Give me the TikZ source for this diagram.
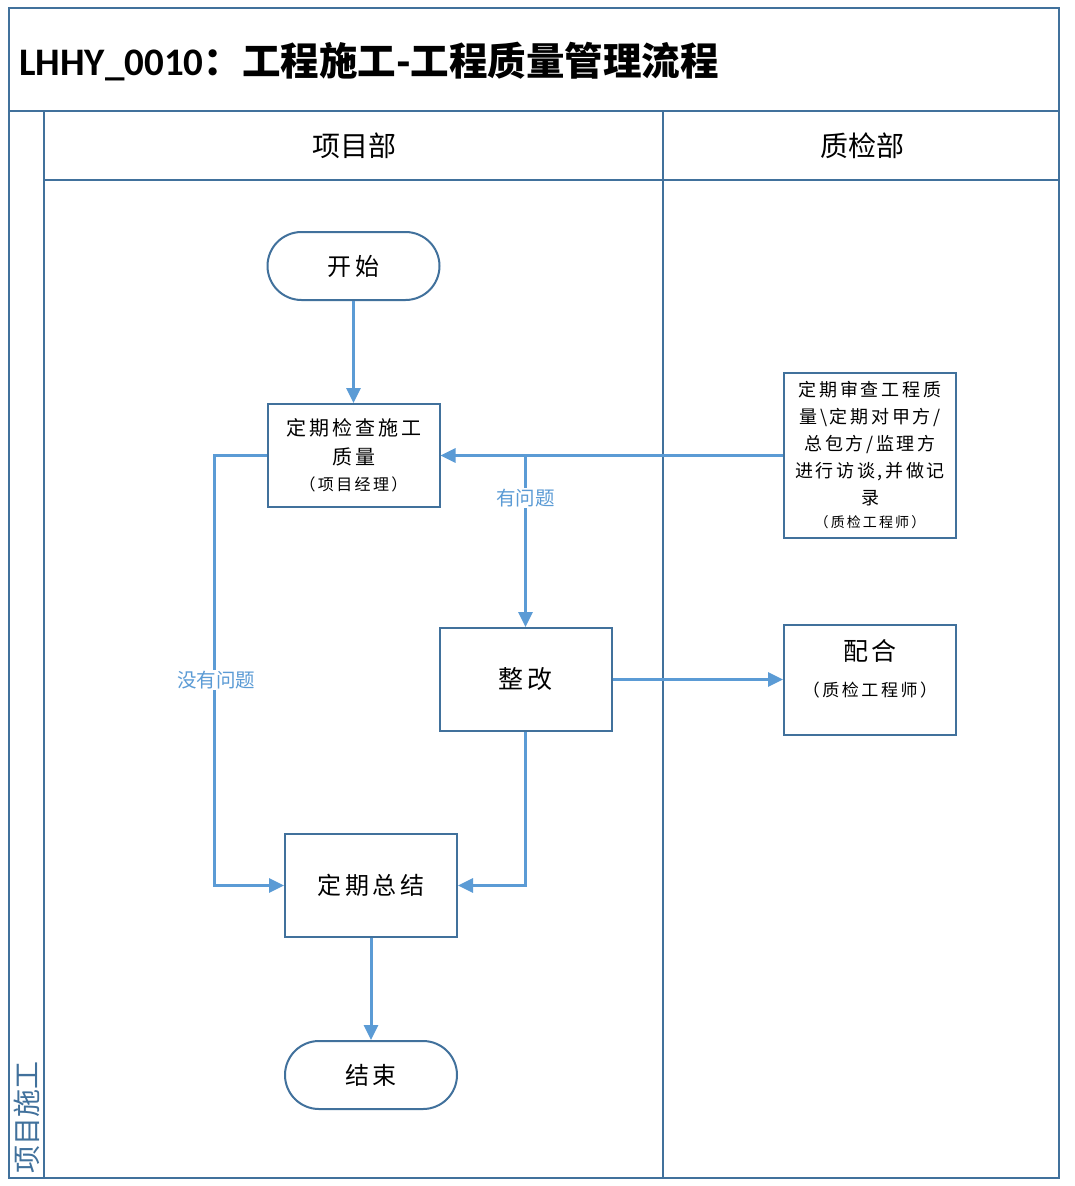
\documentclass[tikz,border=0pt]{standalone}
\usepackage{fontspec}
\setmainfont{Noto Sans CJK SC}
\newfontfamily\cjks{Noto Sans CJK SC}[LetterSpace=15]
\newfontfamily\latinb{Carlito}
\usetikzlibrary{arrows.meta}
\definecolor{frame}{HTML}{41719C}
\definecolor{arr}{HTML}{5B9BD5}
\newcommand{\fsz}[2]{\fontsize{#1}{#2}\selectfont}
\tikzset{
  lane/.style={draw=frame,line width=2pt},
  box/.style={draw=frame,line width=2pt,fill=white,minimum width=172pt,align=center,inner sep=2pt,text=black},
  term/.style={box,rounded corners=34pt,minimum height=68pt},
  flow/.style={draw=arr,line width=3pt,-{Triangle[length=15pt,width=14pt]}},
  lbl/.style={fill=white,text=arr,inner sep=1pt,font=\fsz{19.5}{21}},
  hdr/.style={font=\fsz{28}{30},text=black}
}
\begin{document}
\begin{tikzpicture}[x=1pt,y=-1pt]
\useasboundingbox (0,0) rectangle (1074,1186);
\fill[white] (0,0) rectangle (1074,1186);
% frame and lanes
\draw[lane] (9,8) rectangle (1059,1178);
\draw[lane] (9,111) -- (1059,111);
\draw[lane] (44,111) -- (44,1178);
\draw[lane] (44,180) -- (1059,180);
\draw[lane] (663,111) -- (663,1178);
% title
\node[anchor=west,inner sep=0pt] (title) at (19,62)
  {{\latinb\bfseries\fsz{39}{40}LHHY\_0010}{\bfseries\fsz{38.5}{40}：工程施工-工程质量管理流程}};
% headers
\node[hdr] (h1) at (354,146) {项目部};
\node[hdr] (h2) at (862,146) {质检部};
\node[rotate=90,text=frame,font=\fsz{28}{30}] (pool) at (27,1117) {项目施工};
% nodes
\node[term,font=\cjks\fsz{24}{28}] (start) at (353.5,266) {开始};
\node[box,minimum height=103pt,font=\cjks\fsz{20}{29}] (check) at (353.5,455.5) {定期检查施工\\质量\\[-3pt]\fsz{16}{22}（项目经理）};
\node[box,minimum height=165pt,font=\cjks\fsz{18}{26.8}] (audit) at (870,455.5) {定期审查工程质\\量\textbackslash 定期对甲方/\\总包方/监理方\\进行访谈,并做记\\录\\[-3pt]\fsz{14}{20}（质检工程师）};
\node[box,minimum height=103pt,font=\cjks\fsz{25}{28}] (fix) at (525.5,679.5) {整改};
\node[box,minimum height=110pt] (coop) at (870,679.5) {};
\node[align=center,font=\cjks\fsz{25}{36}] (cooptext) at (870,669) {配合\\\fsz{17}{24}（质检工程师）};
\node[box,minimum height=103pt,font=\cjks\fsz{24}{28}] (sum) at (371,885.5) {定期总结};
\node[term,font=\cjks\fsz{24}{28}] (end) at (371,1075) {结束};
% connectors
\draw[flow] (start) -- (check);
\draw[flow] (audit) -- (check);
\coordinate (br) at (525.5,455.5);
\draw[flow] (br) -- (fix.north) node[lbl,pos=0.25] {有问题};
\draw[flow] (check.west) -- ++(-52,0) coordinate (lc) |- (sum.west);
\node[lbl] (nolbl) at (216,680) {没有问题};
\draw[flow] (fix.east) -- (coop.west);
\draw[flow] (fix.south) |- (sum.east);
\draw[flow] (sum) -- (end);
\end{tikzpicture}
\end{document}
